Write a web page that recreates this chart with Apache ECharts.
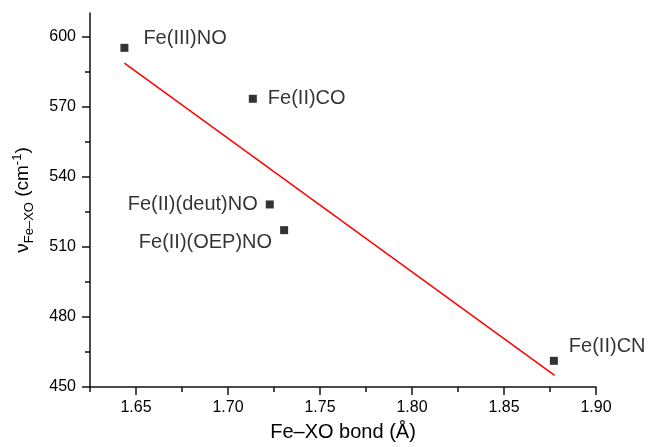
<!DOCTYPE html>
<html>
<head>
<meta charset="utf-8">
<style>
  html, body { margin: 0; padding: 0; background: #fff; }
  #chart { width: 650px; height: 447px; }
</style>
<script src="https://cdn.jsdelivr.net/npm/echarts@6/dist/echarts.min.js"></script>
</head>
<body>
<div id="chart"></div>
<script>
// Fe–XO bond length (Å) vs. Fe–XO stretching frequency (cm⁻¹)
var complexNames = ['Fe(III)NO', 'Fe(II)CO', 'Fe(II)(deut)NO', 'Fe(II)(OEP)NO', 'Fe(II)CN'];
var bondLengths  = [1.6437, 1.7135, 1.7227, 1.7305, 1.8771];
var frequencies  = [595.1, 573.3, 528.1, 517.1, 461.2];

// least-squares fit line, drawn between its two end points
var fitX = [1.6437, 1.8775];
var fitY = [588.6, 455.0];

// axis tick values
var xMajorTicks = [1.65, 1.70, 1.75, 1.80, 1.85, 1.90];
var xMinorTicks = [1.625, 1.675, 1.725, 1.775, 1.825, 1.875];
var yMajorTicks = [450, 480, 510, 540, 570, 600];
var yMinorTicks = [465, 495, 525, 555, 585];

var FONT = 'Arial, "Liberation Sans", sans-serif';
var AXIS_COLOR = '#111';

// where each complex name sits next to its marker
var labelPlacement = {
  'Fe(III)NO':      { position: 'right', distance: 15, offset: [0, -9] },
  'Fe(II)CO':       { position: 'right', distance: 11, offset: [0, 0] },
  'Fe(II)(deut)NO': { position: 'left',  distance: 8,  offset: [0, 0] },
  'Fe(II)(OEP)NO':  { position: 'left',  distance: 8,  offset: [0, 12] },
  'Fe(II)CN':       { position: 'right', distance: 11, offset: [0, -14] }
};

var points = complexNames.map(function (name, i) {
  var p = labelPlacement[name];
  return {
    name: name,
    value: [bondLengths[i], frequencies[i]],
    label: {
      show: true,
      formatter: name,
      position: p.position,
      distance: p.distance,
      offset: p.offset,
      color: '#000',
      fontSize: 20,
      fontFamily: FONT
    }
  };
});

var fitLine = fitX.map(function (x, i) { return [x, fitY[i]]; });

var xMin = 1.625, xMax = 1.90;
var yMin = 450, yMax = 610;

var chart = echarts.init(document.getElementById('chart'), null, { renderer: 'canvas' });

chart.setOption({
  backgroundColor: '#fff',
  animation: false,
  grid: { left: 86, right: 54, top: 13, bottom: 58, containLabel: false },
  xAxis: [
    {
      type: 'value', min: xMin, max: xMax,
      name: 'Fe–XO bond (Å)',
      nameLocation: 'middle', nameGap: 35,
      nameTextStyle: { color: '#000', fontSize: 20, fontFamily: FONT },
      axisLine: { show: true, onZero: false, lineStyle: { color: AXIS_COLOR, width: 1.5 } },
      axisTick: { show: true, inside: false, length: 8, customValues: xMajorTicks,
                  lineStyle: { color: AXIS_COLOR, width: 1.5 } },
      axisLabel: { show: true, customValues: xMajorTicks, margin: 13,
                   color: '#000', fontSize: 16, fontFamily: FONT,
                   formatter: function (v) { return v.toFixed(2); } },
      splitLine: { show: false }
    },
    {
      type: 'value', min: xMin, max: xMax, position: 'bottom',
      axisLine: { show: false, onZero: false },
      axisTick: { show: true, inside: false, length: 5, customValues: xMinorTicks,
                  lineStyle: { color: AXIS_COLOR, width: 1.5 } },
      axisLabel: { show: false },
      splitLine: { show: false }
    }
  ],
  yAxis: [
    {
      type: 'value', min: yMin, max: yMax,
      name: '{m|ν}{s|Fe–XO}{m| (cm}{u|-1}{m|)}',
      nameLocation: 'middle', nameRotate: 90, nameGap: 52,
      nameTextStyle: {
        color: '#000', fontFamily: FONT, fontSize: 19,
        rich: {
          m: { fontSize: 19, fontFamily: FONT, color: '#000', lineHeight: 30, verticalAlign: 'middle' },
          s: { fontSize: 13, fontFamily: FONT, color: '#000', lineHeight: 30, verticalAlign: 'bottom', padding: [0, 0, 2, 0] },
          u: { fontSize: 13, fontFamily: FONT, color: '#000', lineHeight: 30, verticalAlign: 'top', padding: [3, 0, 0, 0] }
        }
      },
      axisLine: { show: true, onZero: false, lineStyle: { color: AXIS_COLOR, width: 1.5 } },
      axisTick: { show: true, inside: false, length: 8, customValues: yMajorTicks,
                  lineStyle: { color: AXIS_COLOR, width: 1.5 } },
      axisLabel: { show: true, customValues: yMajorTicks, margin: 14,
                   color: '#000', fontSize: 16, fontFamily: FONT },
      splitLine: { show: false }
    },
    {
      type: 'value', min: yMin, max: yMax, position: 'left',
      axisLine: { show: false, onZero: false },
      axisTick: { show: true, inside: false, length: 5, customValues: yMinorTicks,
                  lineStyle: { color: AXIS_COLOR, width: 1.5 } },
      axisLabel: { show: false },
      splitLine: { show: false }
    }
  ],
  series: [
    {
      name: 'fit',
      type: 'line',
      xAxisIndex: 0, yAxisIndex: 0,
      data: fitLine,
      showSymbol: false,
      symbol: 'none',
      lineStyle: { color: '#ff0000', width: 1.5 },
      z: 2
    },
    {
      name: 'complexes',
      type: 'scatter',
      xAxisIndex: 0, yAxisIndex: 0,
      data: points,
      symbol: 'rect',
      symbolSize: 8,
      itemStyle: { color: '#000' },
      z: 3
    }
  ]
});
</script>
</body>
</html>
